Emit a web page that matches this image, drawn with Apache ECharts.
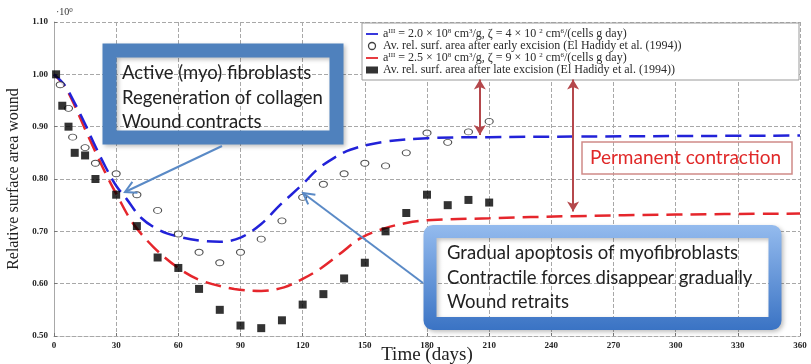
<!DOCTYPE html>
<html>
<head>
<meta charset="utf-8">
<script src="https://cdn.jsdelivr.net/npm/echarts@6/dist/echarts.min.js"></script>
<style>
  html, body, #main { width: 811px; height: 364px; margin: 0; background: #fff; }
</style>
</head>
<body>
<div id="main"></div>
<script>
// model curves
var blueCurve = [[0,1.0],[5,0.98],[10,0.945],[15,0.905],[20,0.862],[25,0.822],[30,0.787],[35,0.762],[42,0.726],[51,0.702],[60,0.69],[71,0.682],[80,0.68],[90,0.688],[100,0.714],[109,0.75],[120,0.79],[127,0.818],[135,0.84],[143,0.856],[159,0.871],[180,0.878],[210,0.880],[250,0.881],[300,0.882],[360,0.883]]
var redCurve = [[0,1.0],[5,0.978],[10,0.94],[15,0.895],[20,0.852],[25,0.81],[30,0.772],[38,0.716],[48,0.67],[60,0.63],[71,0.606],[87,0.59],[100,0.586],[111,0.593],[120,0.609],[129,0.63],[138,0.657],[148,0.687],[159,0.705],[170,0.716],[180,0.721],[210,0.725],[250,0.729],[300,0.732],[360,0.734]]

// El Hadidy et al. (1994)
var earlyDays = [3,7,9,15,20,30,40,50,60,70,80,90,100,110,120,130,140,150,160,170,180,190,200,210]
var earlyArea = [0.98,0.935,0.88,0.86,0.83,0.81,0.77,0.74,0.695,0.66,0.64,0.66,0.685,0.72,0.765,0.79,0.81,0.83,0.825,0.85,0.888,0.87,0.89,0.91]
var lateDays = [1,4,7,10,15,20,30,40,50,60,70,80,90,100,110,120,130,140,150,160,170,180,190,200,210]
var lateArea = [1.0,0.94,0.90,0.85,0.845,0.80,0.77,0.71,0.65,0.63,0.59,0.55,0.52,0.515,0.53,0.56,0.58,0.61,0.64,0.70,0.735,0.77,0.75,0.76,0.755]

var legendText = {
  blue: 'a{sup|III} = 2.0 \u00d7 10{sup|8} cm{sup|3}/g, \u03b6 = 4 \u00d7 10 {sup|2} cm{sup|6}/(cells g day)',
  early: 'Av. rel. surf. area after early excision (El Hadidy et al. (1994))',
  red: 'a{sup|III} = 2.5 \u00d7 10{sup|8} cm{sup|3}/g, \u03b6 = 9 \u00d7 10 {sup|2} cm{sup|6}/(cells g day)',
  late: 'Av. rel. surf. area after late excision (El Hadidy et al. (1994))'
}

var serif = 'Liberation Serif'
var sans = 'Lato'
var blue = '#2222d8'
var red = '#e5262c'
var callout = '#5a8ac6'

function zip(a, b) { return a.map(function (x, i) { return [x, b[i]] }) }

function arrow(x1, y1, x2, y2, color) {
  var dx = x2 - x1, dy = y2 - y1, len = Math.sqrt(dx*dx + dy*dy)
  var ux = dx / len, uy = dy / len, h = 11, w = 6
  var bx = x2 - ux * h, by = y2 - uy * h
  return [
    { type: 'line', shape: { x1: x1, y1: y1, x2: x2, y2: y2 }, style: { stroke: color, lineWidth: 2 }, z: 20 },
    { type: 'polyline', shape: { points: [[bx - uy*w, by + ux*w], [x2, y2], [bx + uy*w, by - ux*w]] }, style: { stroke: color, lineWidth: 2, fill: null }, z: 20 }
  ]
}

var chart = echarts.init(document.getElementById('main'))

var gridLine = { lineStyle: { color: '#a8a8a8', type: [4, 2], width: 1 } }

var option = {
  backgroundColor: '#fff',
  animation: false,
  grid: { left: 54, right: 11, top: 22, bottom: 28, outerBoundsMode: 'none' },
  xAxis: {
    type: 'value', min: 0, max: 360, interval: 30,
    name: 'Time (days)', nameLocation: 'middle', nameGap: 10, nameMoveOverlap: false,
    nameTextStyle: { fontFamily: serif, fontSize: 19, color: '#222', verticalAlign: 'top' },
    axisLine: { show: true, lineStyle: { color: '#a8a8a8', type: [4, 2] } },
    axisTick: { show: true, inside: true, length: 3, lineStyle: { color: '#777' } },
    axisLabel: { fontFamily: serif, fontWeight: 'bold', fontSize: 9, color: '#222', margin: 5 },
    splitLine: gridLine
  },
  yAxis: {
    type: 'value', min: 0.5, max: 1.1, interval: 0.1,
    name: 'Relative surface area wound', nameLocation: 'middle', nameGap: 30,
    nameTextStyle: { fontFamily: serif, fontSize: 16, color: '#222' },
    axisLine: { show: true, lineStyle: { color: '#a8a8a8', type: [4, 2] } },
    axisTick: { show: true, inside: true, length: 3, lineStyle: { color: '#777' } },
    axisLabel: { fontFamily: serif, fontWeight: 'bold', fontSize: 9, color: '#222', margin: 6,
      formatter: function (v) { return v.toFixed(2) } },
    splitLine: gridLine
  },
  legend: {
    orient: 'vertical', left: 362, top: 23,
    backgroundColor: '#fff', borderColor: '#9a9a9a', borderWidth: 1,
    padding: [5, 4, 4, 4], itemGap: 0, itemWidth: 12, itemHeight: 7,
    data: [
      { name: 'blue', icon: 'path://M0,0 L16,0 L16,2.4 L0,2.4 Z', itemStyle: { color: blue } },
      { name: 'early', icon: 'circle', itemStyle: { color: '#fff', borderColor: '#111', borderWidth: 1.3 } },
      { name: 'red', icon: 'path://M0,0 L16,0 L16,2.4 L0,2.4 Z', itemStyle: { color: red } },
      { name: 'late', icon: 'rect', itemStyle: { color: '#000' } }
    ],
    formatter: function (n) { return legendText[n] },
    textStyle: {
      fontFamily: serif, fontSize: 12, color: '#2a2a2a', lineHeight: 12, width: 412,
      rich: { sup: { fontFamily: serif, fontSize: 7, lineHeight: 7, verticalAlign: 'top', color: '#2a2a2a' } }
    }
  },
  series: [
    {
      name: 'blue', type: 'line', data: blueCurve, smooth: 0.35, symbol: 'none', color: blue,
      lineStyle: { color: blue, width: 2.5, type: [16, 8] }, z: 3,
      markLine: {
        silent: true, symbol: ['arrow', 'arrow'], symbolSize: [9, 10],
        lineStyle: { color: '#b5484c', type: 'solid', width: 2 }, label: { show: false },
        data: [
          [{ coord: [205.5, 0.99] }, { coord: [205.5, 0.884] }],
          [{ coord: [250.5, 0.99] }, { coord: [250.5, 0.738] }]
        ]
      }
    },
    {
      name: 'red', type: 'line', data: redCurve, smooth: 0.35, symbol: 'none', color: red,
      lineStyle: { color: red, width: 2.5, type: [16, 8] }, z: 2
    },
    {
      name: 'early', type: 'scatter', data: zip(earlyDays, earlyArea), symbol: 'circle', symbolSize: [8, 6],
      itemStyle: { color: '#fff', borderColor: '#222', borderWidth: 1 }, z: 4
    },
    {
      name: 'late', type: 'scatter', data: zip(lateDays, lateArea), symbol: 'rect', symbolSize: 8,
      itemStyle: { color: '#000' }, z: 4
    }
  ],
  graphic: [
    { type: 'text', x: 56, y: 7, style: { text: '\u00b710{s|0}', fontFamily: serif, fontSize: 10, fill: '#333',
      rich: { s: { fontFamily: serif, fontSize: 7, lineHeight: 7, verticalAlign: 'top', fill: '#333' } } } },
    // early phase callout
    { type: 'rect', shape: { x: 109.5, y: 50.5, width: 227, height: 87 },
      style: { fill: null, stroke: '#4f81bd', lineWidth: 14, shadowBlur: 4, shadowOffsetX: 2, shadowOffsetY: 2, shadowColor: 'rgba(0,0,0,0.25)' }, z: 15 },
    { type: 'text', x: 122, y: 61, z: 16, style: { text: 'Active (myo) fibroblasts\nRegeneration of collagen\nWound contracts',
      fontFamily: sans, fontSize: 18.5, lineHeight: 24.5, fill: '#222', verticalAlign: 'top' } },
    // late phase callout
    { type: 'rect', shape: { x: 430, y: 231.5, width: 345, height: 92, r: 3 },
      style: { fill: null, lineWidth: 13, shadowBlur: 4, shadowOffsetX: 2, shadowOffsetY: 2, shadowColor: 'rgba(0,0,0,0.25)',
        stroke: { type: 'linear', x: 0, y: 0, x2: 0, y2: 1, colorStops: [{ offset: 0, color: '#94bbee' }, { offset: 1, color: '#3a73c4' }] } }, z: 15 },
    { type: 'text', x: 447, y: 241, z: 16, style: { text: 'Gradual apoptosis of myofibroblasts\nContractile forces disappear gradually\nWound retraits',
      fontFamily: sans, fontSize: 18.5, lineHeight: 24.5, fill: '#222', verticalAlign: 'top' } },
    // permanent contraction label
    { type: 'rect', shape: { x: 582, y: 142, width: 210, height: 32 }, style: { fill: null, stroke: '#cf8a88', lineWidth: 1.5 }, z: 15 },
    { type: 'text', x: 590, y: 158, z: 16, style: { text: 'Permanent contraction', fontFamily: sans, fontSize: 19, fill: '#e02828', verticalAlign: 'middle' } }
  ].concat(arrow(222, 146, 125, 192, callout)).concat(arrow(423, 283, 303, 193, callout))
}

chart.setOption(option)
</script>
</body>
</html>
